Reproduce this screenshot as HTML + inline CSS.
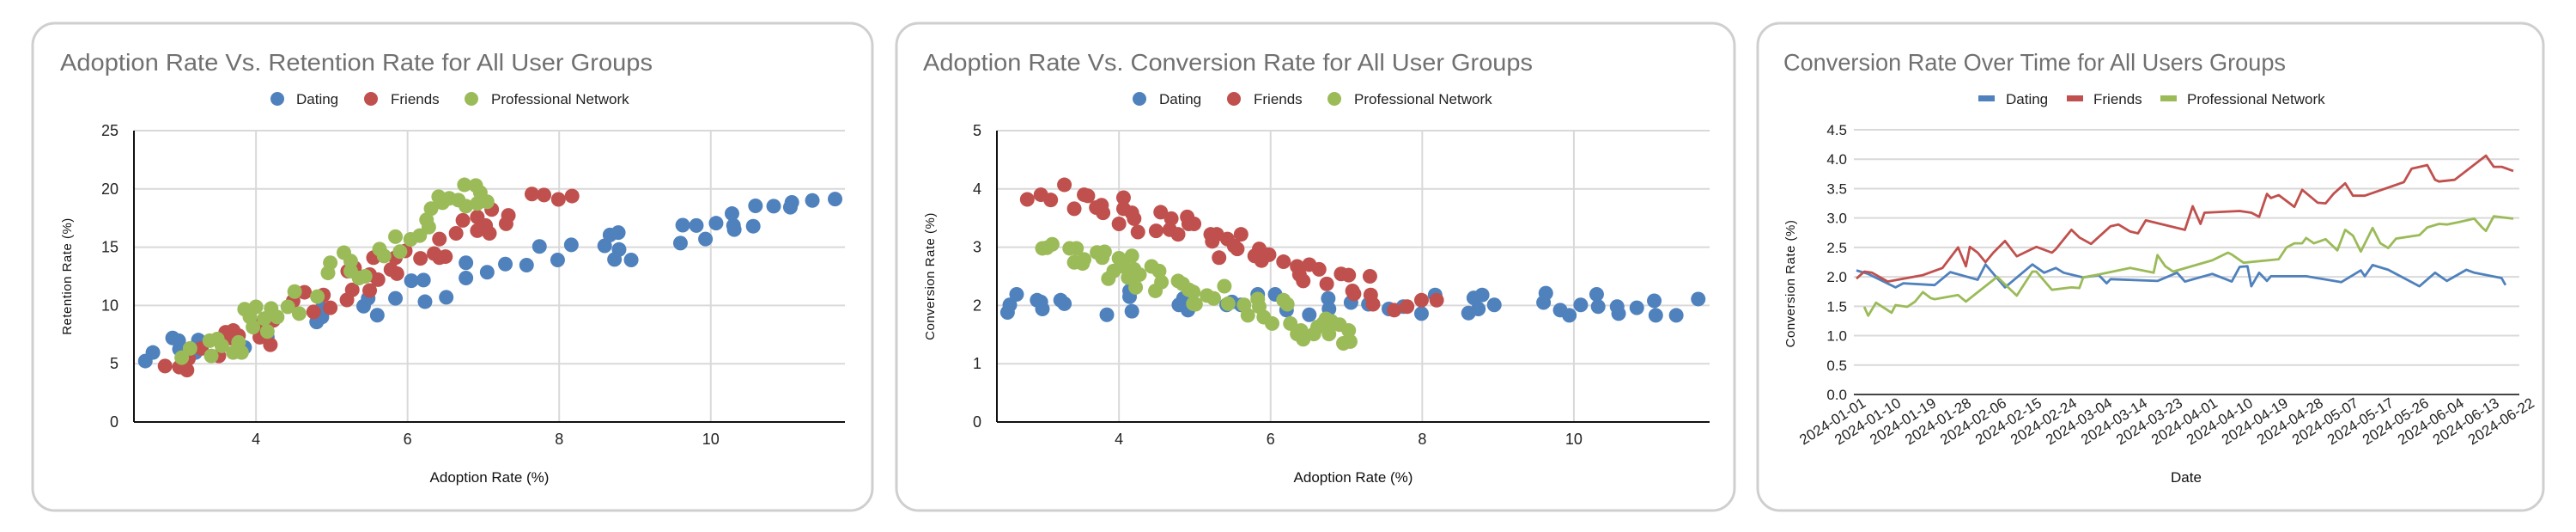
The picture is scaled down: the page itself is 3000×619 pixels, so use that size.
<!DOCTYPE html>
<html><head><meta charset="utf-8"><style>
html,body{margin:0;padding:0;background:#fff;}
svg{display:block;font-family:"Liberation Sans",sans-serif;}
</style></head><body>
<svg id="root" width="3000" height="619" viewBox="0 0 3000 619" xmlns="http://www.w3.org/2000/svg">
<rect x="0" y="0" width="3000" height="619" fill="#ffffff"/>
<g>
<rect x="38" y="27" width="978" height="567" rx="26" fill="#fff" stroke="#cfcfcf" stroke-width="3"/>
<text x="70" y="82" font-size="28" fill="#707070" textLength="690" lengthAdjust="spacingAndGlyphs">Adoption Rate Vs. Retention Rate for All User Groups</text>
<g id="c1"></g>
</g>
<g>
<rect x="1044" y="27" width="976" height="567" rx="26" fill="#fff" stroke="#cfcfcf" stroke-width="3"/>
<text x="1075" y="82" font-size="28" fill="#707070" textLength="710" lengthAdjust="spacingAndGlyphs">Adoption Rate Vs. Conversion Rate for All User Groups</text>
<g id="c2"></g>
</g>
<g>
<rect x="2047" y="27" width="915" height="567" rx="26" fill="#fff" stroke="#cfcfcf" stroke-width="3"/>
<text x="2077" y="82" font-size="28" fill="#707070" textLength="585" lengthAdjust="spacingAndGlyphs">Conversion Rate Over Time for All Users Groups</text>
<g id="c3"></g>
</g>
</svg>
<script>
const NS="http://www.w3.org/2000/svg";
const COLORS=["#4F81BD","#C0504D","#9BBB59"];
const seriesNames=["Dating","Friends","Professional Network"];

// Chart 1: adoption vs retention
const c1DatingX=[2.54,2.64,2.90,2.98,2.99,3.24,3.20,3.85,4.15,4.80,4.87,4.87,5.42,5.48,5.60,5.84,6.05,6.21,6.23,6.51,6.77,6.77,7.05,7.29,7.57,7.74,7.98,8.16,8.60,8.67,8.78,8.79,8.73,8.95,9.60,9.63,9.81,9.93,10.07,10.28,10.30,10.31,10.56,10.59,10.83,11.05,11.07,11.34,11.64];
const c1DatingY=[5.23,5.96,7.21,6.98,6.25,7.03,5.96,6.40,7.27,8.58,9.01,9.74,9.94,10.61,9.16,10.61,12.12,12.18,10.32,10.70,13.66,12.35,12.85,13.55,13.46,15.06,13.90,15.20,15.12,16.05,16.25,14.80,13.95,13.90,15.35,16.89,16.86,15.70,17.06,17.88,16.86,16.51,16.80,18.55,18.52,18.43,18.84,19.01,19.13];
const c1FriendsX=[2.80,2.99,3.09,3.11,3.28,3.51,3.60,3.70,3.66,3.77,4.05,4.19,4.04,4.23,4.49,4.64,4.89,4.76,4.98,5.20,5.27,5.21,5.30,5.50,5.50,5.61,5.55,5.78,5.86,5.84,5.97,6.17,6.35,6.42,6.50,6.42,6.64,6.73,6.92,6.92,7.03,7.08,7.30,7.33,7.11,7.64,7.80,7.99,8.17];
const c1FriendsY=[4.80,4.71,4.45,5.44,6.31,5.67,7.70,7.85,7.21,7.41,7.27,6.63,8.43,8.72,10.38,11.13,10.90,9.45,9.80,10.47,11.34,12.94,13.23,11.28,12.65,12.21,14.10,13.08,12.73,14.10,14.68,14.04,14.45,15.70,14.19,14.10,16.19,17.30,17.59,16.42,16.86,16.19,17.01,17.73,18.23,19.56,19.48,19.10,19.39];
const c1ProX=[3.02,3.13,3.39,3.49,3.55,3.41,3.70,3.77,3.81,3.85,3.92,4.00,3.96,4.15,4.11,4.20,4.28,4.42,4.51,4.57,4.81,4.95,4.98,5.16,5.25,5.25,5.36,5.44,5.63,5.69,5.84,5.90,6.04,6.16,6.25,6.28,6.31,6.41,6.46,6.55,6.67,6.77,6.75,6.90,6.96,6.92,7.05];
const c1ProY=[5.52,6.31,6.98,7.12,6.54,5.67,5.96,6.83,5.96,9.68,9.01,9.88,8.14,7.76,8.87,9.74,9.01,9.88,11.19,9.30,10.76,12.79,13.66,14.53,13.81,12.94,12.35,12.50,14.83,14.24,15.90,14.62,15.67,15.99,17.35,16.72,18.31,19.33,18.81,19.19,19.04,18.52,20.35,20.29,19.68,18.75,18.90];
const c1YTicks=[0,5,10,15,20,25];
const c1XTicks=[4,6,8,10];

// Chart 2: adoption vs conversion
const c2DatingX=[2.53,2.56,2.65,2.92,2.99,2.97,3.23,3.28,3.84,4.14,4.17,4.14,4.79,4.85,4.91,5.42,5.49,5.61,5.83,6.06,6.21,6.51,6.76,6.77,7.06,7.29,7.56,7.75,7.99,8.17,8.61,8.68,8.74,8.79,8.95,9.60,9.63,9.82,9.94,10.09,10.30,10.32,10.57,10.59,10.83,11.06,11.08,11.35,11.64];
const c2DatingY=[1.88,2.01,2.19,2.09,1.94,2.06,2.09,2.03,1.84,2.15,1.90,2.25,2.01,2.12,1.92,2.01,2.06,2.01,2.19,2.19,1.92,1.84,2.12,1.94,2.05,2.02,1.94,1.98,1.86,2.18,1.87,2.13,1.94,2.18,2.01,2.05,2.21,1.92,1.83,2.01,2.19,1.98,1.98,1.86,1.96,2.08,1.83,1.83,2.11];
const c2FriendsX=[2.79,2.97,3.10,3.28,3.41,3.54,3.59,3.70,3.77,3.79,4.00,4.06,4.06,4.17,4.20,4.25,4.49,4.55,4.67,4.69,4.78,4.90,4.92,4.99,5.21,5.23,5.29,5.32,5.43,5.52,5.56,5.61,5.79,5.85,5.88,5.94,5.98,6.17,6.35,6.38,6.43,6.51,6.64,6.74,6.93,7.03,7.08,7.10,7.31,7.32,7.35,7.63,7.80,7.99,8.19];
const c2FriendsY=[3.82,3.90,3.81,4.07,3.66,3.90,3.88,3.68,3.72,3.59,3.40,3.85,3.66,3.59,3.49,3.26,3.28,3.60,3.30,3.49,3.22,3.52,3.40,3.40,3.22,3.10,3.22,2.82,3.14,3.02,2.97,3.22,2.85,2.97,2.77,2.87,2.87,2.75,2.67,2.53,2.42,2.70,2.62,2.37,2.54,2.52,2.25,2.20,2.50,2.18,2.02,1.92,1.98,2.09,2.09];
const c2ProX=[2.99,3.12,3.05,3.35,3.44,3.41,3.52,3.54,3.71,3.78,3.81,3.86,3.93,4.00,4.06,4.12,4.17,4.20,4.22,4.27,4.43,4.48,4.53,4.56,4.78,4.84,4.92,4.98,4.98,5.01,5.16,5.25,5.39,5.44,5.65,5.70,5.83,5.85,5.91,6.02,6.17,6.22,6.26,6.35,6.40,6.43,6.57,6.62,6.69,6.73,6.77,6.80,6.91,6.96,7.03,7.05];
const c2ProY=[2.98,3.05,2.99,2.98,2.98,2.74,2.72,2.79,2.91,2.82,2.92,2.46,2.59,2.81,2.67,2.48,2.85,2.62,2.31,2.53,2.67,2.25,2.59,2.40,2.42,2.37,2.27,2.23,2.03,2.02,2.17,2.12,2.33,2.03,2.01,1.83,2.11,1.98,1.80,1.69,2.09,2.02,1.69,1.51,1.57,1.42,1.51,1.63,1.69,1.77,1.51,1.73,1.67,1.35,1.57,1.38];
const c2YTicks=[0,1,2,3,4,5];
const c2XTicks=[4,6,8,10];

// Chart 3: conversion over time (day index, value)
const dateLabels=["2024-01-01","2024-01-10","2024-01-19","2024-01-28","2024-02-06","2024-02-15","2024-02-24","2024-03-04","2024-03-14","2024-03-23","2024-04-01","2024-04-10","2024-04-19","2024-04-28","2024-05-07","2024-05-17","2024-05-26","2024-06-04","2024-06-13","2024-06-22"];
const c3YTicks=[0,0.5,1,1.5,2,2.5,3,3.5,4,4.5];
const c3DatingI=[0,3,10,12,20,24,31,33,38,45,48,51,53,58,62,64,65,77,82,84,91,96,98,100,101,103,105,106,115,124,129,130,132,136,144,148,151,156,158,165,166];
const c3DatingV=[2.11,2.05,1.82,1.89,1.86,2.08,1.95,2.21,1.82,2.21,2.07,2.15,2.07,1.99,2.03,1.89,1.96,1.93,2.07,1.92,2.05,1.92,2.17,2.18,1.84,2.07,1.93,2.01,2.01,1.91,2.11,2.01,2.20,2.12,1.84,2.07,1.93,2.12,2.07,1.98,1.86];
const c3FriendsI=[0,2,4,8,17,22,26,28,29,31,33,35,38,41,46,50,51,55,57,60,65,67,70,72,74,84,86,88,89,98,101,103,105,106,108,112,114,118,120,122,125,127,130,140,142,146,148,149,153,161,163,165,168];
const c3FriendsV=[1.97,2.09,2.07,1.92,2.03,2.15,2.50,2.18,2.51,2.41,2.25,2.41,2.61,2.35,2.51,2.41,2.47,2.80,2.67,2.56,2.86,2.89,2.77,2.74,2.96,2.80,3.20,2.90,3.09,3.12,3.09,3.02,3.41,3.34,3.39,3.19,3.48,3.26,3.25,3.41,3.59,3.38,3.38,3.61,3.84,3.90,3.65,3.62,3.65,4.06,3.87,3.87,3.80];
const c3ProI=[2,3,5,9,10,13,15,17,19,20,26,28,36,41,45,46,50,55,57,58,62,70,76,77,79,81,91,95,96,99,108,110,112,114,115,117,120,123,125,127,129,132,134,136,138,144,146,149,151,154,158,160,161,163,168];
const c3ProV=[1.49,1.34,1.56,1.39,1.52,1.49,1.58,1.74,1.64,1.62,1.69,1.58,2.00,1.68,2.09,2.09,1.78,1.82,1.81,1.99,2.04,2.15,2.07,2.37,2.18,2.09,2.28,2.41,2.38,2.24,2.30,2.50,2.57,2.57,2.66,2.57,2.64,2.45,2.80,2.70,2.43,2.83,2.57,2.49,2.65,2.71,2.84,2.90,2.89,2.93,2.99,2.84,2.78,3.03,2.99];
const c3Count=169;

function el(tag,attrs,parent,text){const e=document.createElementNS(NS,tag);for(const k in attrs)e.setAttribute(k,attrs[k]);if(text!==undefined)e.textContent=text;parent.appendChild(e);return e;}

function legend(g,cx,items,kind){
  items.forEach(it=>{
    if(kind==="dot"){
      const d=el("circle",{cx:it.mx,cy:115,r:8,fill:it.c},g);
      
      
    } else {
      const d=el("rect",{x:it.mx-10,y:111,width:19,height:7,fill:it.c},g);
      
      
    }
    const t=el("text",{x:it.tx,y:121,"font-size":17,fill:"#222"},g,it.n);
    
    
  });
}

function scatter(g,opt){
  const {L,R,T,B,xmin,xmax,ymax,yTicks,xTicks,series,yTitle,yTitleX,xTitleX,legendPos}=opt;
  const sx=v=>L+(v-xmin)/(xmax-xmin)*(R-L);
  const sy=v=>B-v/ymax*(B-T);
  yTicks.forEach(v=>{
    if(v>0){const l=el("line",{x1:L,x2:R,y1:sy(v),y2:sy(v),stroke:"#d9d9d9","stroke-width":2},g);
      }
    const t=el("text",{x:L-18,y:sy(v)+6,"font-size":18,fill:"#222","text-anchor":"end"},g,String(v));
    
  });
  xTicks.forEach(v=>{
    const l=el("line",{x1:sx(v),x2:sx(v),y1:T,y2:B,stroke:"#d9d9d9","stroke-width":2},g);
    
    const t=el("text",{x:sx(v),y:517,"font-size":18,fill:"#222","text-anchor":"middle"},g,String(v));
    
  });
  const ax=el("line",{x1:L,x2:L,y1:T,y2:B,stroke:"#111","stroke-width":2},g);
  
  const ax2=el("line",{x1:L,x2:R,y1:B,y2:B,stroke:"#111","stroke-width":2},g);
  
  series.forEach((s,i)=>{
    const sg=el("g",{},g);
    
    
    s.x.forEach((xv,j)=>{
      const c=el("circle",{cx:sx(xv),cy:sy(s.y[j]),r:8.5,fill:COLORS[i]},sg);
      
      
    });
  });
  const yt=el("text",{x:0,y:0,"font-size":15,fill:"#111","text-anchor":"middle",transform:`translate(${yTitleX},${(T+B)/2}) rotate(-90)`,"letter-spacing":"0.5"},g,yTitle);
  
  const xt=el("text",{x:xTitleX,y:561,"font-size":17,fill:"#111","text-anchor":"middle"},g,"Adoption Rate (%)");
  
  legend(g,0,legendPos,"dot");
}

scatter(document.getElementById("c1"),{L:156,R:984,T:152,B:491,xmin:2.39,xmax:11.77,ymax:25,yTicks:c1YTicks,xTicks:c1XTicks,
  series:[{x:c1DatingX,y:c1DatingY},{x:c1FriendsX,y:c1FriendsY},{x:c1ProX,y:c1ProY}],
  yTitle:"Retention Rate (%)",yTitleX:83,xTitleX:570,
  legendPos:[{mx:323,tx:345,n:"Dating",c:COLORS[0]},{mx:432,tx:455,n:"Friends",c:COLORS[1]},{mx:549,tx:572,n:"Professional Network",c:COLORS[2]}]});

scatter(document.getElementById("c2"),{L:1161,R:1991,T:152,B:491,xmin:2.39,xmax:11.79,ymax:5,yTicks:c2YTicks,xTicks:c2XTicks,
  series:[{x:c2DatingX,y:c2DatingY},{x:c2FriendsX,y:c2FriendsY},{x:c2ProX,y:c2ProY}],
  yTitle:"Conversion Rate (%)",yTitleX:1088,xTitleX:1576,
  legendPos:[{mx:1327,tx:1350,n:"Dating",c:COLORS[0]},{mx:1437,tx:1460,n:"Friends",c:COLORS[1]},{mx:1554,tx:1577,n:"Professional Network",c:COLORS[2]}]});

(function(){
  const g=document.getElementById("c3");
  const L=2159,R=2934,T=151,B=459,ymax=4.5,x0=2162,x1=2927;
  const sx=i=>x0+i/(c3Count-1)*(x1-x0);
  const sy=v=>B-v/ymax*(B-T);
  c3YTicks.forEach(v=>{
    const l=el("line",{x1:L,x2:R,y1:sy(v),y2:sy(v),stroke:v===0?"#444":"#d9d9d9","stroke-width":2},g);
    
    const t=el("text",{x:2151,y:sy(v)+6,"font-size":17,fill:"#222","text-anchor":"end"},g,v.toFixed(1));
    
  });
  dateLabels.forEach((d,k)=>{
    const x=sx(k*9);
    const t=el("text",{x:0,y:0,"font-size":17,fill:"#222","text-anchor":"end",transform:`translate(${x+12},${472}) rotate(-32)`},g,d);
    
  });
  const S=[[c3DatingI,c3DatingV],[c3FriendsI,c3FriendsV],[c3ProI,c3ProV]];
  S.forEach((s,i)=>{
    const pts=s[0].map((ix,j)=>sx(ix).toFixed(1)+","+sy(s[1][j]).toFixed(1)).join(" ");
    const p=el("polyline",{points:pts,fill:"none",stroke:COLORS[i],"stroke-width":2.8,"stroke-linejoin":"round"},g);
    
    
  });
  const yt=el("text",{x:0,y:0,"font-size":15,fill:"#111","text-anchor":"middle","letter-spacing":"0.5",transform:`translate(2090,330) rotate(-90)`},g,"Conversion Rate (%)");
  
  const xt=el("text",{x:2546,y:561,"font-size":17,fill:"#111","text-anchor":"middle"},g,"Date");
  
  legend(g,0,[{mx:2314,tx:2336,n:"Dating",c:COLORS[0]},{mx:2417,tx:2438,n:"Friends",c:COLORS[1]},{mx:2526,tx:2547,n:"Professional Network",c:COLORS[2]}],"rect");
})();
</script>
</body></html>
